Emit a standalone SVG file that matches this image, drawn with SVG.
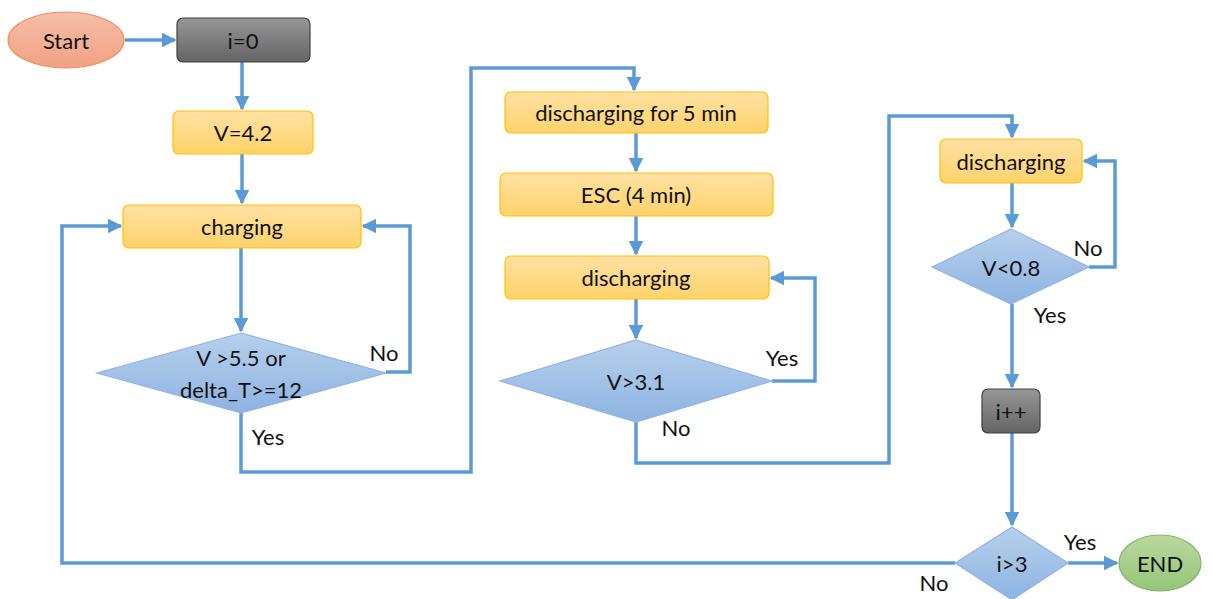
<svg xmlns="http://www.w3.org/2000/svg" width="1213" height="599" viewBox="0 0 1213 599">
  <defs>
    <linearGradient id="gOrange" x1="0" y1="0" x2="0" y2="1">
      <stop offset="0" stop-color="#ffe1a3"/>
      <stop offset="1" stop-color="#ffd36b"/>
    </linearGradient>
    <linearGradient id="gBlue" x1="0" y1="0" x2="0" y2="1">
      <stop offset="0" stop-color="#b7d0ec"/>
      <stop offset="1" stop-color="#8db3e2"/>
    </linearGradient>
    <linearGradient id="gGray" x1="0" y1="0" x2="0" y2="1">
      <stop offset="0" stop-color="#979797"/>
      <stop offset="1" stop-color="#646464"/>
    </linearGradient>
    <linearGradient id="gSalmon" x1="0" y1="0" x2="0" y2="1">
      <stop offset="0" stop-color="#f6bea8"/>
      <stop offset="1" stop-color="#f2a283"/>
    </linearGradient>
    <linearGradient id="gGreen" x1="0" y1="0" x2="0" y2="1">
      <stop offset="0" stop-color="#b9d89f"/>
      <stop offset="1" stop-color="#97c57a"/>
    </linearGradient>
    <marker id="arrow" viewBox="0 0 10 10" refX="9" refY="5" markerWidth="4.2" markerHeight="4.2" orient="auto" markerUnits="strokeWidth">
      <path d="M0,0 L10,5 L0,10 z" fill="#5b9bd5"/>
    </marker>
  </defs>
  <style>
    .proc { fill: url(#gOrange); stroke: #ffc000; stroke-width: 1.2; }
    .dec { fill: url(#gBlue); stroke: #8fb5e4; stroke-width: 1.2; }
    .cnt { fill: url(#gGray); stroke: #404040; stroke-width: 1.2; }
    .lbl { font-family: Lato, "Liberation Sans", sans-serif; font-size: 22px; fill: #111; text-anchor: middle; dominant-baseline: central; }
    .edge { fill: none; stroke: #5b9bd5; stroke-width: 3.5; stroke-linejoin: miter; }
    .arr { marker-end: url(#arrow); }
  </style>

  <g id="connectors">
    <path class="edge arr" d="M125,40 L175,40"/>
    <path class="edge arr" d="M242,62 L242,109"/>
    <path class="edge arr" d="M242,154 L242,203"/>
    <path class="edge arr" d="M241,248 L241,331"/>
    <path class="edge arr" d="M386,372 L410,372 L410,226 L363,226"/>
    <path class="edge arr" d="M241,413 L241,472 L471,472 L471,68 L634,68 L634,90"/>
    <path class="edge arr" d="M636,133 L636,171"/>
    <path class="edge arr" d="M636,216 L636,254"/>
    <path class="edge arr" d="M636,299 L636,338"/>
    <path class="edge arr" d="M772,381 L815,381 L815,278 L771,278"/>
    <path class="edge arr" d="M636,422 L636,463 L889,463 L889,116 L1012,116 L1012,137"/>
    <path class="edge arr" d="M1012,183 L1012,227"/>
    <path class="edge arr" d="M1089,267 L1115,267 L1115,161 L1084,161"/>
    <path class="edge arr" d="M1012,304 L1012,387"/>
    <path class="edge arr" d="M1012,433 L1012,525"/>
    <path class="edge arr" d="M1068,563 L1117,563"/>
    <path class="edge arr" d="M955,563 L62,563 L62,226 L121,226"/>
  </g>

  <g id="start">
    <ellipse cx="66" cy="40" rx="58" ry="28" fill="url(#gSalmon)" stroke="#ee8a5e" stroke-width="1.2"/>
    <text class="lbl" x="66" y="40">Start</text>
  </g>
  <g id="init">
    <rect class="cnt" x="177" y="18" width="133" height="44" rx="6"/>
    <text class="lbl" x="243" y="40">i=0</text>
  </g>
  <g id="setV">
    <rect class="proc" x="173" y="111" width="140" height="43" rx="6"/>
    <text class="lbl" x="243" y="132">V=4.2</text>
  </g>
  <g id="charging">
    <rect class="proc" x="123" y="205" width="238" height="43" rx="6"/>
    <text class="lbl" x="242" y="226">charging</text>
  </g>
  <g id="checkCharge">
    <polygon class="dec" points="241,333 386,373 241,413 97,373"/>
    <text class="lbl" x="241" y="357">V &gt;5.5 or</text>
    <text class="lbl" x="241" y="389">delta_T&gt;=12</text>
  </g>
  <g id="discharge5">
    <rect class="proc" x="505" y="92" width="263" height="41" rx="6"/>
    <text class="lbl" x="636" y="112">discharging for 5 min</text>
  </g>
  <g id="esc">
    <rect class="proc" x="500" y="173" width="273" height="43" rx="6"/>
    <text class="lbl" x="636" y="194">ESC (4 min)</text>
  </g>
  <g id="discharge2">
    <rect class="proc" x="505" y="256" width="264" height="43" rx="6"/>
    <text class="lbl" x="636" y="277">discharging</text>
  </g>
  <g id="checkDischarge">
    <polygon class="dec" points="636,340 772,381 636,422 500,381"/>
    <text class="lbl" x="636" y="381">V&gt;3.1</text>
  </g>
  <g id="discharge3">
    <rect class="proc" x="940" y="139" width="142" height="44" rx="6"/>
    <text class="lbl" x="1011" y="161">discharging</text>
  </g>
  <g id="checkLow">
    <polygon class="dec" points="1011,229 1089,267 1011,304 932,267"/>
    <text class="lbl" x="1011" y="267">V&lt;0.8</text>
  </g>
  <g id="increment">
    <rect class="cnt" x="982" y="389" width="58" height="44" rx="6"/>
    <text class="lbl" x="1011" y="411">i++</text>
  </g>
  <g id="checkCount">
    <polygon class="dec" points="1012,527 1068,563 1012,600 955,563"/>
    <text class="lbl" x="1012" y="563">i&gt;3</text>
  </g>
  <g id="end">
    <ellipse cx="1160" cy="563" rx="41" ry="28" fill="url(#gGreen)" stroke="#82b366" stroke-width="1.2"/>
    <text class="lbl" x="1160" y="563">END</text>
  </g>

  <g id="edge-labels">
    <text class="lbl" x="384" y="352">No</text>
    <text class="lbl" x="268" y="436">Yes</text>
    <text class="lbl" x="782" y="357">Yes</text>
    <text class="lbl" x="676" y="427">No</text>
    <text class="lbl" x="1088" y="247">No</text>
    <text class="lbl" x="1050" y="314">Yes</text>
    <text class="lbl" x="1080" y="541">Yes</text>
    <text class="lbl" x="934" y="582">No</text>
  </g>
</svg>
